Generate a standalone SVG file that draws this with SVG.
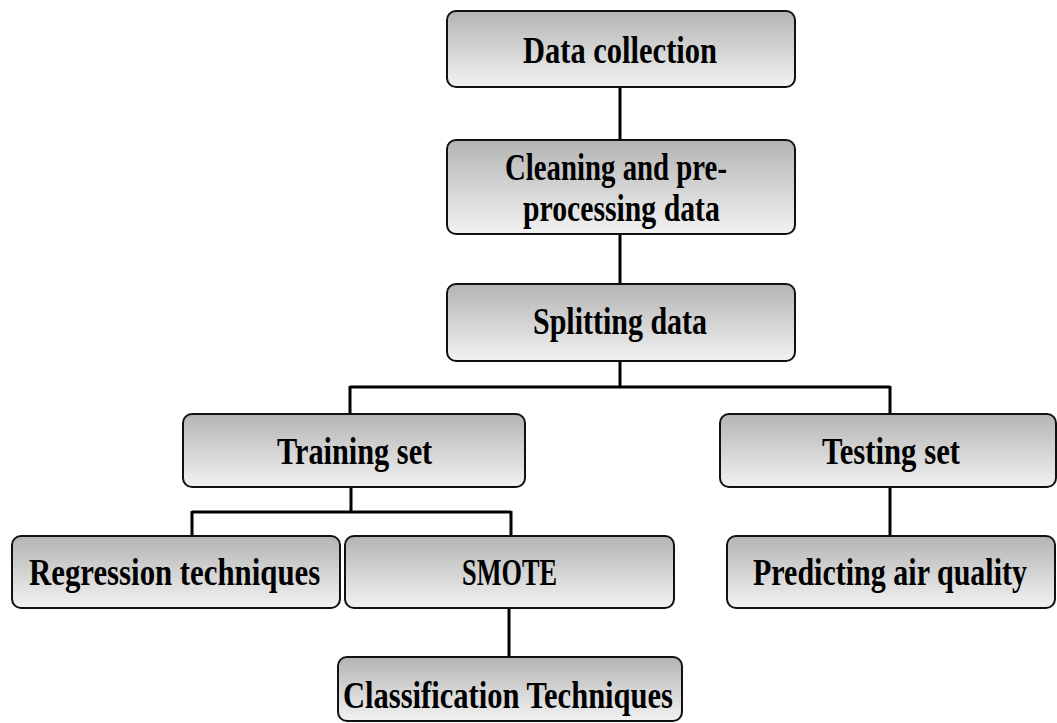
<svg xmlns="http://www.w3.org/2000/svg" width="1057" height="723" viewBox="0 0 1057 723">
  <defs>
    <linearGradient id="boxFill" x1="0" y1="0" x2="0" y2="1">
      <stop offset="0" stop-color="#b4b4b4"/>
      <stop offset="1" stop-color="#f2f2f2"/>
    </linearGradient>
  </defs>
  <style>
    .box { fill: url(#boxFill); stroke: #111; stroke-width: 2; }
    .label { font-family: "Liberation Serif", "Times New Roman", serif; font-weight: bold; font-size: 38px; fill: #000; }
    .link { fill: none; stroke: #000; stroke-width: 3; }
  </style>
  <rect width="1057" height="723" fill="#fff"/>

  <g id="connectors">
    <path class="link" d="M620 87 V140"/>
    <path class="link" d="M620 234 V284"/>
    <path class="link" d="M620 361 V387 M350 387 H890 M350 386 V414 M890 386 V414"/>
    <path class="link" d="M351 487 V512 M192 512 H511 M192 511 V537 M511 511 V537"/>
    <path class="link" d="M509 608 V657"/>
    <path class="link" d="M890 487 V540"/>
  </g>

  <!-- labels use a condensed serif look: horizontal scale 0.8, widths fixed in local units -->
  <g id="data-collection">
    <rect class="box" x="447" y="11" width="348" height="76" rx="9"/>
    <text class="label" transform="translate(523 63) scale(0.8 1)" textLength="242.5" lengthAdjust="spacingAndGlyphs">Data collection</text>
  </g>

  <g id="cleaning">
    <rect class="box" x="447" y="140" width="348" height="94" rx="9"/>
    <text class="label" transform="translate(505 180) scale(0.8 1)" textLength="277.5" lengthAdjust="spacingAndGlyphs">Cleaning and pre-</text>
    <text class="label" transform="translate(523 221) scale(0.8 1)" textLength="246" lengthAdjust="spacingAndGlyphs">processing data</text>
  </g>

  <g id="splitting">
    <rect class="box" x="447" y="284" width="348" height="77" rx="9"/>
    <text class="label" transform="translate(533 334) scale(0.8 1)" textLength="217.5" lengthAdjust="spacingAndGlyphs">Splitting data</text>
  </g>

  <g id="training-set">
    <rect class="box" x="183" y="414" width="342" height="73" rx="9"/>
    <text class="label" transform="translate(277 464) scale(0.8 1)" textLength="194" lengthAdjust="spacingAndGlyphs">Training set</text>
  </g>

  <g id="testing-set">
    <rect class="box" x="720" y="414" width="336" height="73" rx="9"/>
    <text class="label" transform="translate(822 464) scale(0.8 1)" textLength="172.5" lengthAdjust="spacingAndGlyphs">Testing set</text>
  </g>

  <g id="regression">
    <rect class="box" x="12" y="536" width="328" height="72" rx="9"/>
    <text class="label" transform="translate(29 585) scale(0.8 1)" textLength="364" lengthAdjust="spacingAndGlyphs">Regression techniques</text>
  </g>

  <g id="smote">
    <rect class="box" x="345" y="536" width="329" height="72" rx="9"/>
    <text class="label" transform="translate(462 585) scale(0.8 1)" textLength="119" lengthAdjust="spacingAndGlyphs">SMOTE</text>
  </g>

  <g id="predicting">
    <rect class="box" x="727" y="536" width="328" height="72" rx="9"/>
    <text class="label" transform="translate(753 585) scale(0.8 1)" textLength="342.5" lengthAdjust="spacingAndGlyphs">Predicting air quality</text>
  </g>

  <g id="classification">
    <rect class="box" x="338" y="657" width="344" height="64" rx="9"/>
    <text class="label" transform="translate(343 708) scale(0.8 1)" textLength="412.5" lengthAdjust="spacingAndGlyphs">Classification Techniques</text>
  </g>
</svg>
